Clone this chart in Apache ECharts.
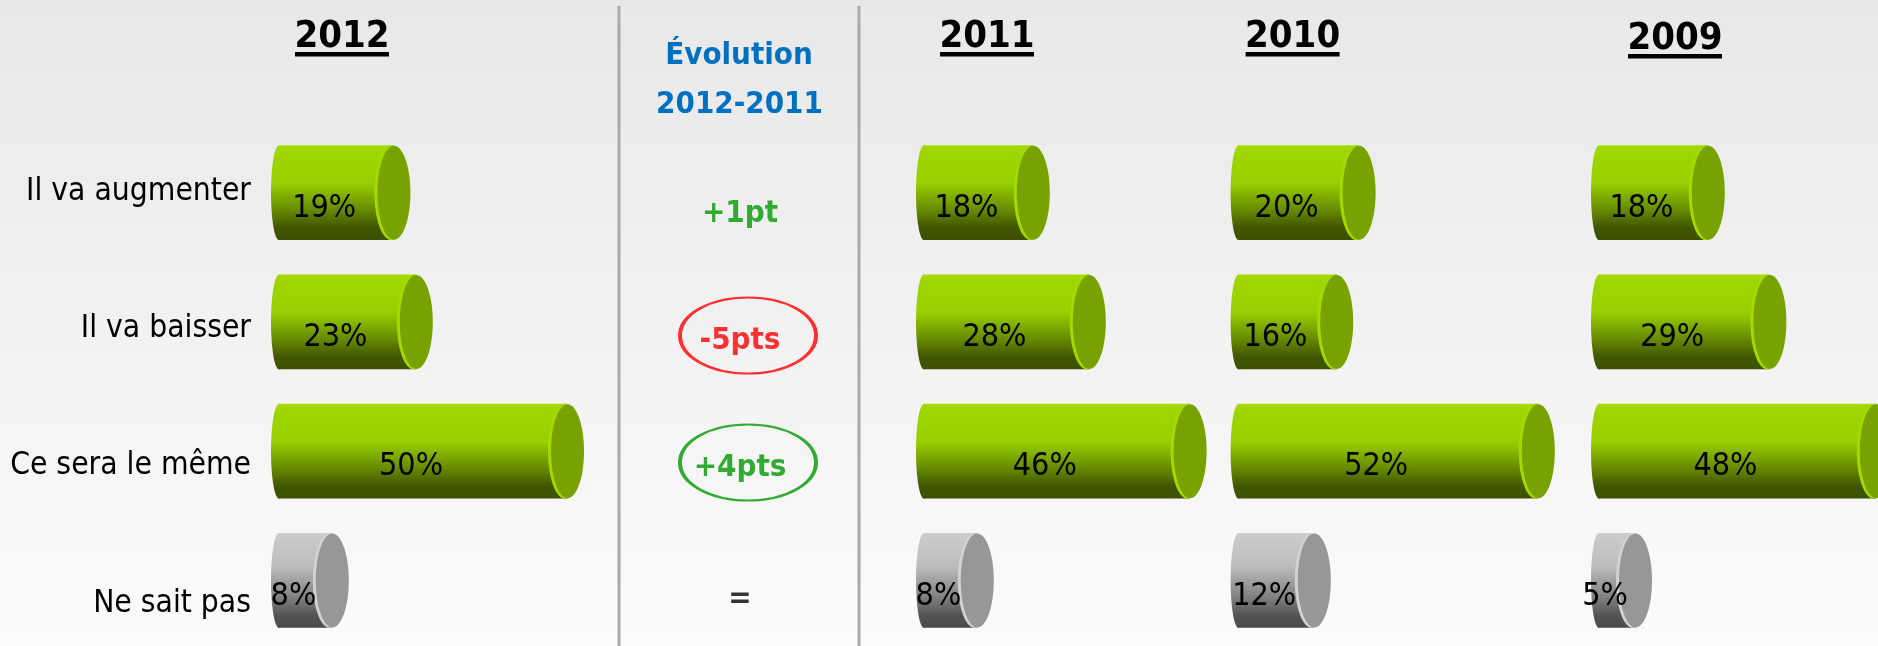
<!DOCTYPE html>
<html>
<head>
<meta charset="utf-8">
<script src="https://cdn.jsdelivr.net/npm/echarts@6/dist/echarts.min.js"></script>
<style>
html, body { margin: 0; padding: 0; }
#chart { width: 1878px; height: 646px; background: linear-gradient(#e8e8e8, #fbfbfb); }
</style>
</head>
<body>
<div id="chart"></div>
<script>
var categories = ['Il va augmenter', 'Il va baisser', 'Ce sera le même', 'Ne sait pas'];
var years = ['2012', '2011', '2010', '2009'];
var values2012 = [19, 23, 50, 8];
var values2011 = [18, 28, 46, 8];
var values2010 = [20, 16, 52, 12];
var values2009 = [18, 29, 48, 5];
var evolution = ['+1pt', '-5pts', '+4pts', '='];
var evolutionColor = ['#009900', '#ff0000', '#009900', '#000000'];
var evolutionCircled = [false, true, true, false];

var font = '"DejaVu Sans Condensed", "DejaVu Sans", sans-serif';
var panelLeft = [271, 916, 1230.6, 1591];
var titleX = [342, 987, 1292.6, 1675];
var titleY = [37, 37, 37, 39];

var greenBody = new echarts.graphic.LinearGradient(0, 0, 0, 1, [
  {offset: 0, color: '#a6db00'},
  {offset: 0.06, color: '#9fd600'},
  {offset: 0.4, color: '#99cf00'},
  {offset: 0.7, color: '#628600'},
  {offset: 0.87, color: '#415600'},
  {offset: 1, color: '#3d5000'}
]);
var greyBody = new echarts.graphic.LinearGradient(0, 0, 0, 1, [
  {offset: 0, color: '#cccccc'},
  {offset: 0.35, color: '#bdbdbd'},
  {offset: 0.68, color: '#808080'},
  {offset: 0.88, color: '#525252'},
  {offset: 1, color: '#4b4b4b'}
]);

/* one cylinder per value: body + left curve + right cap + label */
function cylinderSeries(idx, values) {
  return {
    type: 'custom',
    xAxisIndex: idx,
    yAxisIndex: idx,
    data: values.map(function (v, i) { return [v, i]; }),
    renderItem: function (params, api) {
      var v = api.value(0);
      var row = api.value(1);
      var start = api.coord([0, row]);
      var end = api.coord([v, row]);
      var mid = api.coord([v / 2, row]);
      var h = api.size([0, 1])[1] * 0.735;
      var cy = start[1];
      var grey = row === 3;
      var capX = end[0] + 16.5;
      return {
        type: 'group',
        children: [
          {type: 'ellipse', shape: {cx: start[0] + 8, cy: cy, rx: 8, ry: h / 2},
            style: {fill: grey ? greyBody : greenBody}},
          {type: 'rect', shape: {x: start[0] + 8, y: cy - h / 2, width: capX - start[0] - 8, height: h},
            style: {fill: grey ? greyBody : greenBody}},
          {type: 'ellipse', shape: {cx: capX - 2.5, cy: cy, rx: 17, ry: h / 2},
            style: {fill: grey ? '#d2d2d2' : '#a4da00'}},
          {type: 'ellipse', shape: {cx: capX, cy: cy, rx: 16.5, ry: h / 2 - 0.5},
            style: {fill: grey ? '#979797' : '#78a200'}},
          {type: 'text', x: mid[0], y: cy + 16,
            style: {text: v + '%', align: 'center', verticalAlign: 'middle',
              fontSize: 32, fontFamily: font, fill: '#000'}}
        ]
      };
    }
  };
}

function grafico() {
  var chart = echarts.init(document.getElementById('chart'));

  var grids = [], xAxes = [], yAxes = [];
  for (var i = 0; i < 4; i++) {
    grids.push({left: panelLeft[i], top: 128, width: 560, height: 517, outerBoundsMode: 'none'});
    xAxes.push({gridIndex: i, type: 'value', min: 0, max: 100, show: false});
    yAxes.push({gridIndex: i, type: 'category', data: categories, inverse: true, show: false});
  }
  // category labels
  grids.push({left: 271, top: 123, width: 10, height: 549, outerBoundsMode: 'none'});
  xAxes.push({gridIndex: 4, type: 'value', show: false});
  yAxes.push({
    gridIndex: 4, type: 'category', data: categories, inverse: true,
    axisLine: {show: false}, axisTick: {show: false}, splitLine: {show: false},
    axisLabel: {margin: 20, fontSize: 31.5, fontFamily: font, color: '#000'}
  });
  // evolution column
  grids.push({left: 620, top: 147, width: 240, height: 508, outerBoundsMode: 'none'});
  xAxes.push({gridIndex: 5, type: 'value', min: -1, max: 1, show: false});
  yAxes.push({gridIndex: 5, type: 'category', data: categories, inverse: true, show: false});

  var graphics = [];
  years.forEach(function (y, i) {
    graphics.push({type: 'text', x: titleX[i], y: titleY[i],
      style: {text: y, align: 'center', verticalAlign: 'middle', fontSize: 38, fontWeight: 'bold', fontFamily: font, fill: '#000'}});
    graphics.push({type: 'rect', shape: {x: titleX[i] - 47, y: titleY[i] + 15, width: 94, height: 4.5},
      style: {fill: '#000'}});
  });
  graphics.push({type: 'text', x: 739, y: 56,
    style: {text: 'Évolution', align: 'center', verticalAlign: 'middle', fontSize: 31, fontWeight: 'bold', fontFamily: font, fill: '#0070c0'}});
  graphics.push({type: 'text', x: 739.5, y: 105,
    style: {text: years[0] + '-' + years[1], align: 'center', verticalAlign: 'middle', fontSize: 31, fontWeight: 'bold', fontFamily: font, fill: '#0070c0'}});
  [619, 859].forEach(function (x) {
    graphics.push({type: 'line', shape: {x1: x, y1: 6, x2: x, y2: 646}, style: {stroke: '#a9a9a9', lineWidth: 3}});
  });

  var option = {
    animation: false,
    grid: grids,
    xAxis: xAxes,
    yAxis: yAxes,
    graphic: graphics,
    series: [
      cylinderSeries(0, values2012),
      cylinderSeries(1, values2011),
      cylinderSeries(2, values2010),
      cylinderSeries(3, values2009),
      {
        type: 'scatter',
        xAxisIndex: 5,
        yAxisIndex: 5,
        symbol: 'path://M0,50C0,22 22,0 50,0C78,0 100,22 100,50C100,78 78,100 50,100C22,100 0,78 0,50Z',
        symbolOffset: [8, -2],
        data: evolution.map(function (t, i) {
          return {
            value: [0, i],
            symbolSize: evolutionCircled[i] ? [136, 76] : 0,
            itemStyle: {color: 'rgba(0,0,0,0)', borderColor: evolutionColor[i], borderWidth: 3},
            label: {color: evolutionColor[i], offset: t === '=' ? [-8, 9] : [-8, 5]}
          };
        }),
        label: {
          show: true, position: 'inside',
          fontSize: 31, fontWeight: 'bold', fontFamily: font,
          formatter: function (p) { return evolution[p.dataIndex]; }
        }
      }
    ]
  };
  chart.setOption(option);
}

grafico();
</script>
</body>
</html>
